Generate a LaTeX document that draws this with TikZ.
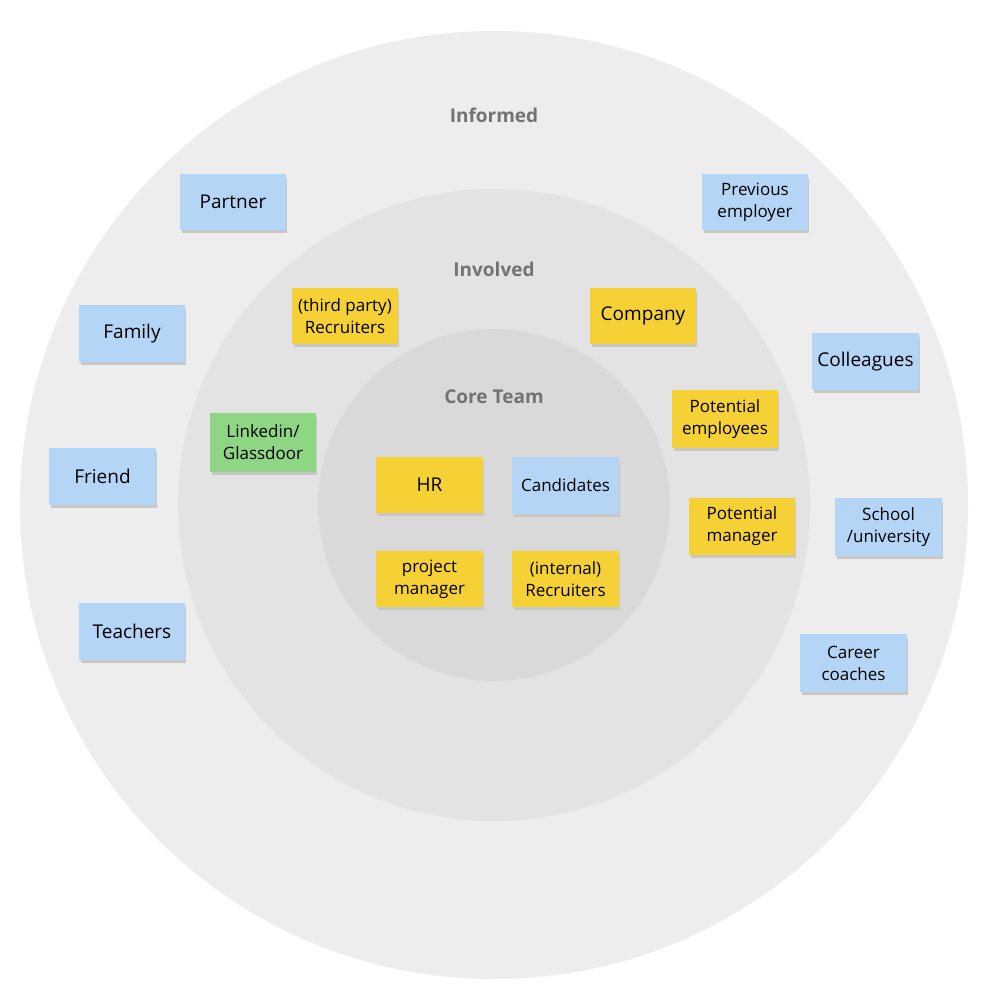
\documentclass[tikz,border=0pt]{standalone}
\usepackage{fontspec}
\setmainfont{Open Sans}
\begin{document}
\begin{tikzpicture}[x=1pt,y=-1pt,
  note/.style={inner sep=0pt,align=center,font=\fontsize{17}{22}\selectfont},
  big/.style={font=\fontsize{19}{22}\selectfont},
  ring/.style={font=\bfseries\fontsize{19}{22}\selectfont,text=black!55}]
\definecolor{bl}{HTML}{B4D5F6}
\definecolor{ye}{HTML}{F6D135}
\definecolor{gr}{HTML}{8FD684}
\useasboundingbox (0,0) rectangle (996,1003);
\fill[white] (0,0) rectangle (996,1003);
\fill[black!7] (494,505) circle (474);
\fill[black!11] (494,505) circle (316);
\fill[black!15] (494,505) circle (176);
\node[ring] (inf) at (494,115) {Informed};
\node[ring] (inv) at (494,269) {Involved};
\node[ring] (core) at (494,397) {Core Team};
\newcommand\sticky[7]{%
  \fill[black!25] (#2+2,#3+4) rectangle (#4+1,#5+3);
  \fill[#6] (#2,#3) rectangle (#4,#5);
  \node[note,#7] (#1) at ({(#2+#4)/2},{(#3+#5)/2}) {\strut};}
\newcommand\stick[8]{%
  \fill[black!22] (#2+2,#3+4) rectangle (#4+1,#5+3);
  \fill[#6] (#2,#3) rectangle (#4,#5);
  \node[note,#7] (#1) at ({(#2+#4)/2},{(#3+#5)/2}) {#8};}
\stick{partner}{180}{174}{286}{230}{bl}{big}{Partner}
\stick{prev}{702}{174}{808}{230}{bl}{}{Previous\\employer}
\stick{family}{79}{305}{185}{362}{bl}{big}{Family}
\stick{third}{292}{288}{398}{344}{ye}{}{(third party)\\Recruiters}
\stick{company}{590}{288}{696}{344}{ye}{big}{Company}
\stick{coll}{812}{333}{919}{390}{bl}{big}{Colleagues}
\stick{link}{210}{413}{316}{472}{gr}{}{Linkedin/\\Glassdoor}
\stick{pemp}{672}{390}{778}{448}{ye}{}{Potential\\employees}
\stick{friend}{49}{448}{156}{505}{bl}{big}{Friend}
\stick{hr}{376}{457}{483}{513}{ye}{big}{HR}
\stick{cand}{512}{457}{619}{514}{bl}{}{Candidates}
\stick{pman}{689}{498}{795}{555}{ye}{}{Potential\\manager}
\stick{school}{835}{498}{942}{556}{bl}{}{School\\/university}
\stick{pm}{376}{551}{483}{607}{ye}{}{project\\manager}
\stick{irec}{512}{551}{619}{607}{ye}{}{(internal)\\Recruiters}
\stick{teach}{79}{603}{185}{660}{bl}{big}{Teachers}
\stick{career}{800}{634}{907}{692}{bl}{}{Career\\coaches}
\end{tikzpicture}
\end{document}
